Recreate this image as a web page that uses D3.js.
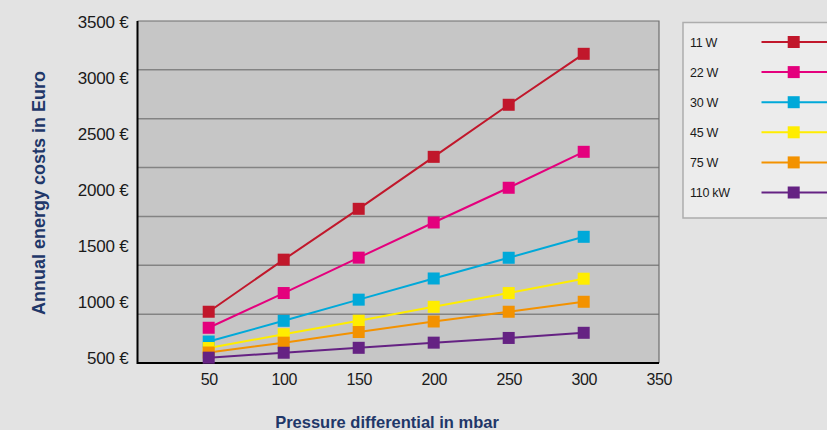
<!DOCTYPE html>
<html>
<head>
<meta charset="utf-8">
<script src="https://cdn.jsdelivr.net/npm/d3@7"></script>
<style>
  html, body { margin: 0; padding: 0; background: #e3e3e3; }
  svg { display: block; }
  text { font-family: "Liberation Sans", Arial, sans-serif; }
</style>
</head>
<body>
<svg id="chart" width="827" height="430"></svg>
<script>
// ---- data ----
const pressure = [50, 100, 150, 200, 250, 300];
const seriesNames = ["11 W", "22 W", "30 W", "45 W", "75 W", "110 kW"];
const cost11W  = [913, 1378, 1832, 2296, 2761, 3216];
const cost22W  = [770, 1080, 1396, 1710, 2020, 2341];
const cost30W  = [647, 832, 1021, 1210, 1395, 1582];
const cost45W  = [589, 712, 833, 957, 1080, 1208];
const cost75W  = [549, 637, 732, 826, 913, 1002];
const cost110W = [503, 547, 591, 637, 679, 725];
const seriesColors = ["#c1172b", "#e4007d", "#00a9d9", "#ffed00", "#f39200", "#652283"];
const yTickValues = [500, 1000, 1500, 2000, 2500, 3000, 3500];
const xTickValues = [50, 100, 150, 200, 250, 300, 350];
const gridDivisions = 7;

const allSeries = [cost11W, cost22W, cost30W, cost45W, cost75W, cost110W].map((vals, i) => ({
  name: seriesNames[i], color: seriesColors[i],
  points: vals.map((v, j) => ({ p: pressure[j], v }))
}));

// ---- layout ----
const svg = d3.select("#chart");
const plot = { left: 137.5, right: 659, top: 21, bottom: 363 };

const x = d3.scaleLinear().domain([0, 350]).range([133.7, 658.7]);
const y = d3.scaleLinear().domain([500, 3500]).range([358, 22]);
const grid = d3.scaleLinear().domain([0, gridDivisions]).range([plot.bottom, plot.top]);

// plot background
svg.append("rect")
  .attr("x", plot.left).attr("y", plot.top)
  .attr("width", plot.right - plot.left).attr("height", plot.bottom - plot.top)
  .attr("fill", "#c6c6c6");

// gridlines
svg.append("g").selectAll("line").data(d3.range(1, gridDivisions)).join("line")
  .attr("x1", plot.left).attr("x2", plot.right)
  .attr("y1", d => grid(d)).attr("y2", d => grid(d))
  .attr("stroke", "#838383").attr("stroke-width", 1.5);

// top and right frame
svg.append("path")
  .attr("d", `M${plot.left},${plot.top}H${plot.right}V${plot.bottom}`)
  .attr("fill", "none").attr("stroke", "#6f6f6f").attr("stroke-width", 1.2);

// axis lines (black)
svg.append("path")
  .attr("d", `M${plot.left},${plot.top}V${plot.bottom}H${plot.right}`)
  .attr("fill", "none").attr("stroke", "#000").attr("stroke-width", 2);

// y tick labels
const yAxis = d3.axisLeft(y).tickValues(yTickValues).tickSize(0).tickPadding(0)
  .tickFormat(d => d + " €");
const yg = svg.append("g").attr("transform", "translate(128.5,0)").call(yAxis);
yg.select(".domain").remove();
yg.selectAll("text").attr("font-size", 17).attr("fill", "#1a1a1a")
  .attr("letter-spacing", "-0.2px").attr("font-family", "'Liberation Sans', Arial, sans-serif");

// x tick labels
const xAxis = d3.axisBottom(x).tickValues(xTickValues).tickSize(0).tickPadding(0);
const xg = svg.append("g").attr("transform", "translate(0,374)").call(xAxis);
xg.select(".domain").remove();
xg.selectAll("text").attr("font-size", 16).attr("fill", "#1a1a1a")
  .attr("letter-spacing", "-0.4px").attr("font-family", "'Liberation Sans', Arial, sans-serif");

// series
const line = d3.line().x(d => x(d.p)).y(d => y(d.v));
const ms = 12;
allSeries.forEach(s => {
  const g = svg.append("g");
  g.append("path").attr("d", line(s.points))
    .attr("fill", "none").attr("stroke", s.color).attr("stroke-width", 2);
  g.selectAll("rect").data(s.points).join("rect")
    .attr("x", d => x(d.p) - ms / 2).attr("y", d => y(d.v) - ms / 2)
    .attr("width", ms).attr("height", ms).attr("fill", s.color);
});

// axis titles
svg.append("text")
  .attr("transform", "translate(45,193) rotate(-90)")
  .attr("text-anchor", "middle")
  .attr("font-size", 18).attr("font-weight", "bold").attr("fill", "#1f3769")
  .text("Annual energy costs in Euro");

svg.append("text")
  .attr("x", 387).attr("y", 428)
  .attr("text-anchor", "middle")
  .attr("font-size", 16.5).attr("font-weight", "bold").attr("fill", "#1f3769")
  .text("Pressure differential in mbar");

// legend
const legend = svg.append("g");
legend.append("rect")
  .attr("x", 683).attr("y", 22.5).attr("width", 170).attr("height", 195.5)
  .attr("fill", "#ececec").attr("stroke", "#adadad").attr("stroke-width", 1.5);
const leg = legend.selectAll("g.item").data(allSeries).join("g")
  .attr("class", "item")
  .attr("transform", (d, i) => `translate(0,${42 + i * 30.1})`);
leg.append("text").attr("x", 690).attr("y", 4.5)
  .attr("font-size", 12.5).attr("fill", "#1a1a1a").attr("letter-spacing", "-0.3px")
  .text(d => d.name);
leg.append("line").attr("x1", 761.5).attr("x2", 830).attr("y1", 0).attr("y2", 0)
  .attr("stroke", d => d.color).attr("stroke-width", 2);
leg.append("rect").attr("x", 793.7 - 6).attr("y", -6).attr("width", 12).attr("height", 12)
  .attr("fill", d => d.color);
</script>
</body>
</html>
